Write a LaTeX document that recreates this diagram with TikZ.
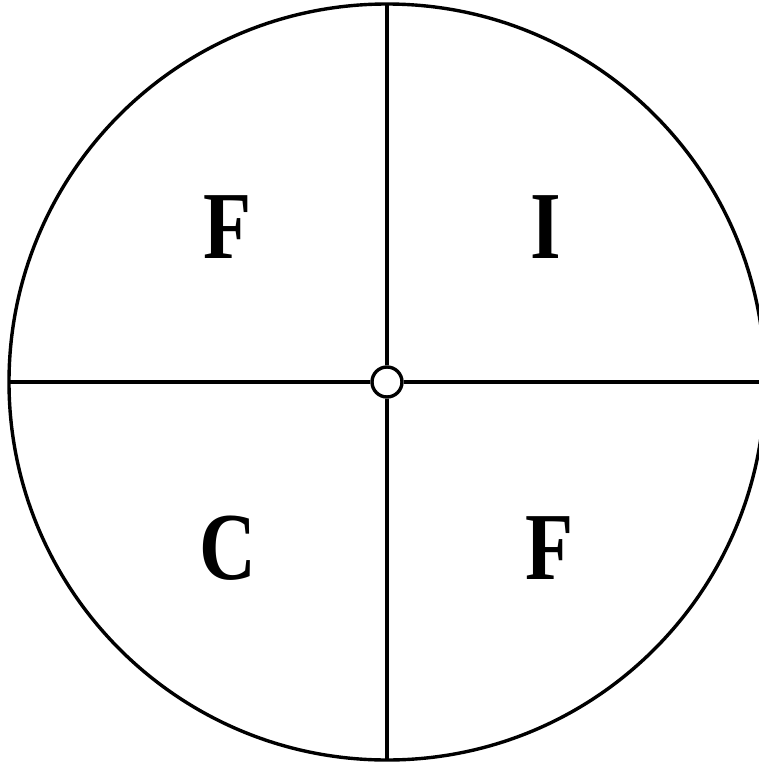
\documentclass[tikz,border=0pt]{standalone}
\usepackage{fontspec}
\setmainfont{Liberation Serif}
\usetikzlibrary{positioning}
\tikzset{
  rim/.style={draw=black, line width=3.4pt},
  spoke/.style={draw=black, line width=3.4pt},
  hub/.style={circle, draw=black, line width=3.4pt, fill=white, minimum size=30pt, inner sep=0pt},
  quad-label/.style={font=\fontsize{96}{96}\selectfont\bfseries, inner sep=0pt}
}
\newcommand{\narrow}[1]{\scalebox{0.82}[1]{#1}}
\begin{document}
\begin{tikzpicture}[x=1pt, y=-1pt]
\useasboundingbox (0,0) rectangle (759,763);
\clip (0,0) rectangle (759,763);

% outer circle
\draw[rim] (387,382) circle (378);

% hub and rim points
\node[hub] (hub) at (387,382) {};
\coordinate (top) at (387,4);
\coordinate (bottom) at (387,760);
\coordinate (left) at (9,382);
\coordinate (right) at (765,382);

% spokes
\draw[spoke] (hub) -- (top);
\draw[spoke] (hub) -- (bottom);
\draw[spoke] (hub) -- (left);
\draw[spoke] (hub) -- (right);

% quadrant letters
\node[quad-label] (nw) at (228,227) {\narrow{F}};
\node[quad-label] (ne) at (546,227) {\narrow{I}};
\node[quad-label] (sw) at (228,548) {\narrow{C}};
\node[quad-label] (se) at (550,548) {\narrow{F}};
\end{tikzpicture}
\end{document}
